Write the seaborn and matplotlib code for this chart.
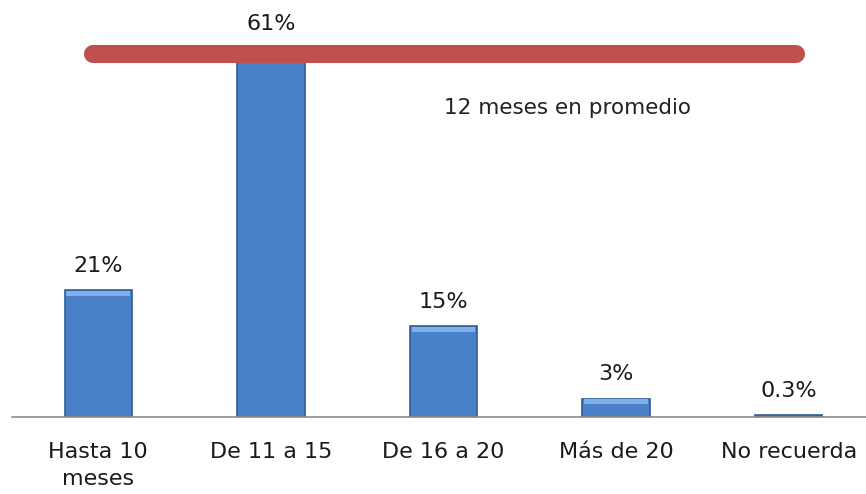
import matplotlib
matplotlib.use("Agg")
import matplotlib.pyplot as plt
import numpy as np
import pandas as pd
import seaborn as sns

categories = ["Hasta 10\nmeses", "De 11 a 15", "De 16 a 20", "Más de 20", "No recuerda"]
values = [21, 61, 15, 3, 0.3]
value_labels = ["21%", "61%", "15%", "3%", "0.3%"]
average_text = "12 meses en promedio"

sns.set_theme(style="white")
plt.rcParams["font.family"] = ["DejaVu Sans"]

df = pd.DataFrame({"cat": categories, "val": values})

fig = plt.figure(figsize=(8.66, 4.94), dpi=100)
ax = fig.add_axes([12 / 866, 77 / 494, 863 / 866, 411 / 494])

sns.barplot(data=df, x="cat", y="val", color="#4a80c8", width=0.39,
            edgecolor="#2f5e9c", linewidth=1.2, saturation=1, ax=ax)

# lighter bevel strip on top of each bar
for p in ax.patches:
    x0, w, h = p.get_x(), p.get_width(), p.get_height()
    if h > 1:
        ax.add_patch(plt.Rectangle((x0 + 0.01, h - 0.9), w - 0.02, 0.8,
                                   color="#7fb0e8", lw=0, zorder=3))

for i, (v, lab) in enumerate(zip(values, value_labels)):
    ax.text(i, v + 2.4, lab, ha="center", va="bottom", fontsize=16, color="#1a1a1a")

# average line
ax.plot([-0.03, 4.04], [60.1, 60.1], color="#c0504d", lw=13, solid_capstyle="round", zorder=5)
ax.text(2.72, 51.2, average_text, ha="center", va="center", fontsize=15.5, color="#222222")

ax.set_ylim(0, 68)
ax.set_xlim(-0.5, 4.5)
ax.set_xlabel("")
ax.set_ylabel("")
ax.set_yticks([])
for s in ["top", "right", "left"]:
    ax.spines[s].set_visible(False)
ax.spines["bottom"].set_color("#8c8c8c")
ax.spines["bottom"].set_linewidth(1.2)

ax.set_xticks(np.arange(-0.5, 5, 1), minor=True)
ax.tick_params(axis="x", which="minor", length=8, color="#8c8c8c", width=1.2, direction="out")
ax.tick_params(axis="x", which="major", length=0, labelsize=16, pad=18, labelcolor="#1a1a1a")
for t in ax.get_xticklabels():
    t.set_linespacing(1.45)

fig.savefig("out.png", dpi=100)
